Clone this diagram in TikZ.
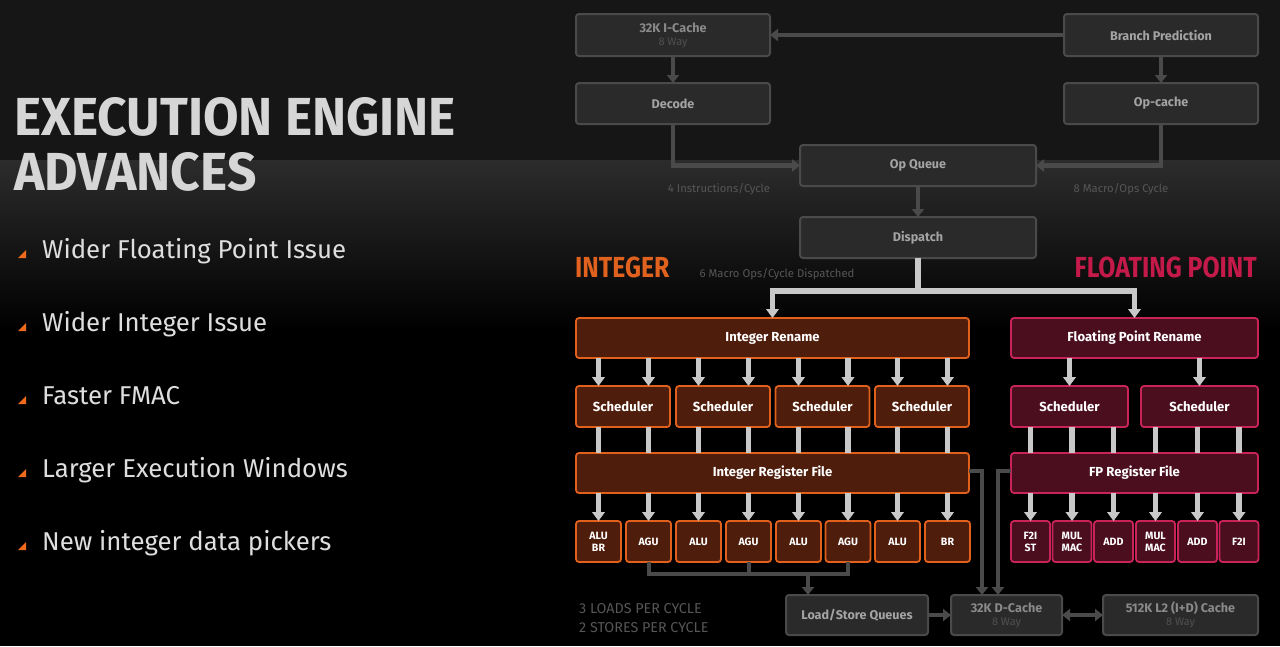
\documentclass[tikz,border=0pt]{standalone}
\usepackage{fontspec}
\usepackage{graphicx}
\setmainfont{Fira Sans}
\usetikzlibrary{arrows.meta}
\definecolor{bgtop}{HTML}{161616}
\definecolor{bgmid}{HTML}{2C2C2C}
\definecolor{gfill}{HTML}{2A2A2A}
\definecolor{gline}{HTML}{4A4A4A}
\definecolor{gtext}{HTML}{A4A4A4}
\definecolor{gdim}{HTML}{8A8A8A}
\definecolor{gsub}{HTML}{505050}
\definecolor{notec}{HTML}{565656}
\definecolor{ifill}{HTML}{4E1D0B}
\definecolor{iline}{HTML}{E0601C}
\definecolor{ffill}{HTML}{4A0E1F}
\definecolor{fline}{HTML}{C8245A}
\definecolor{lgray}{HTML}{C8C8C8}
\definecolor{ititle}{HTML}{E0621E}
\definecolor{ftitle}{HTML}{C41A4A}
\definecolor{titlec}{HTML}{D6D6D6}
\definecolor{bulletc}{HTML}{F06A1E}
\definecolor{itemc}{HTML}{DEDEDE}
\begin{document}
\begin{tikzpicture}[x=1pt,y=-1pt,
  gbox/.style={draw=gline, fill=gfill, line width=2pt, rounded corners=3pt, inner sep=0pt, outer sep=0pt, text=gtext, font=\bfseries\fontsize{12.6}{14}\selectfont, align=center},
  cbox/.style={gbox, text=gdim},
  ibox/.style={draw=iline, fill=ifill, line width=1.8pt, rounded corners=3pt, inner sep=0pt, outer sep=0pt, text=white, font=\bfseries\fontsize{13.1}{15}\selectfont, align=center},
  fbox/.style={ibox, draw=fline, fill=ffill},
  unitfont/.style={font=\bfseries\fontsize{10.6}{12}\selectfont},
  garrow/.style={draw=gline, line width=4.5pt, -{Triangle[width=12pt,length=8pt]}},
  gwire/.style={draw=gline, line width=4pt},
  larrow/.style={draw=lgray, line width=5.5pt, -{Triangle[width=12.5pt,length=9pt]}},
  lbar/.style={draw=lgray, line width=5.5pt},
  note/.style={text=notec, font=\fontsize{11.3}{13}\selectfont},
]
% background
\fill[black] (0,0) rectangle (1280,646);
\fill[bgtop] (0,0) rectangle (1280,160);
\shade[top color=bgmid, bottom color=black] (0,160) rectangle (1280,330);
\useasboundingbox (0,0) rectangle (1280,646);

% left text
\node[anchor=base west, inner sep=0pt, text=titlec, font=\bfseries\fontsize{51.5}{55}\selectfont] (t1) at (14,135) {\scalebox{1}[1.04]{EXECUTION ENGINE}};
\node[anchor=base west, inner sep=0pt, text=titlec, font=\bfseries\fontsize{51.5}{55}\selectfont] (t2) at (14,190) {\scalebox{1}[1.04]{ADVANCES}};
\foreach \y/\txt [count=\i] in {258/Wider Floating Point Issue, 331/Wider Integer Issue, 404/Faster FMAC, 477/Larger Execution Windows, 550/New integer data pickers}{
  \fill[bulletc] (18,\y) -- (26,\y) -- (26,\y-8) -- cycle;
  \node[anchor=base west, inner sep=0pt, text=itemc, font=\fontsize{25.8}{30}\selectfont] (item\i) at (42,\y) {\txt};
}

% front end
\node[cbox, minimum width=194, minimum height=42] (icache) at (673,35) {32K I-Cache\\[-1pt]{\mdseries\color{gsub}\fontsize{11}{12}\selectfont 8 Way}};
\node[gbox, minimum width=194, minimum height=42] (bp) at (1161,35) {Branch Prediction};
\node[gbox, minimum width=194, minimum height=41] (decode) at (673,103.5) {Decode};
\node[gbox, minimum width=194, minimum height=41] (opcache) at (1161,103.5) {Op-cache};
\node[gbox, minimum width=236, minimum height=41] (opq) at (918,165.5) {Op Queue};
\node[gbox, minimum width=236, minimum height=41] (dispatch) at (918,237.5) {Dispatch};

\draw[garrow] (bp.west) -- (icache.east);
\draw[garrow] (icache.south) -- (decode.north);
\draw[garrow] (bp.south) -- (opcache.north);
\draw[garrow] (decode.south) |- (opq.west);
\draw[garrow] (opcache.south) |- (opq.east);
\draw[garrow] (opq.south) -- (dispatch.north);

\node[note] (n1) at (719,189) {4 Instructions/Cycle};
\node[note] (n2) at (1121,189) {8 Macro/Ops Cycle};
\node[note] (n3) at (777,274) {6 Macro Ops/Cycle Dispatched};

\node[anchor=base west, inner sep=0pt, text=ititle, font=\bfseries\fontsize{24.8}{26}\selectfont] (inttitle) at (575,277) {\scalebox{1}[1.17]{INTEGER}};
\node[anchor=base east, inner sep=0pt, text=ftitle, font=\bfseries\fontsize{24.8}{26}\selectfont] (fptitle) at (1257,277) {\scalebox{1}[1.17]{FLOATING POINT}};

% integer cluster
\node[ibox, minimum width=393, minimum height=40] (irename) at (772.5,338) {Integer Rename};
\node[ibox, minimum width=393, minimum height=40] (irf) at (772.5,473) {Integer Register File};
\foreach \cx [count=\j] in {623,723,822.5,922}{
  \node[ibox, minimum width=94, minimum height=41] (isch\j) at (\cx,406.5) {Scheduler};
}
\foreach \cx/\lbl [count=\k] in {598.5/{ALU\\BR},648.5/AGU,698.5/ALU,748.5/AGU,798.5/ALU,848/AGU,897.5/ALU,947.5/BR}{
  \node[ibox, unitfont, minimum width=45, minimum height=41] (iu\k) at (\cx,541.5) {\lbl};
}
\foreach \k/\j in {1/1,2/1,3/2,4/2,5/3,6/3,7/4,8/4}{
  \draw[larrow] (irename.south -| iu\k) -- (isch\j.north -| iu\k);
  \draw[lbar] (isch\j.south -| iu\k) -- (irf.north -| iu\k);
  \draw[larrow] (irf.south -| iu\k) -- (iu\k.north);
}

% floating point cluster
\node[fbox, minimum width=247, minimum height=40] (frename) at (1134.5,338) {Floating Point Rename};
\node[fbox, minimum width=247, minimum height=40] (fprf) at (1134.5,473) {FP Register File};
\node[fbox, minimum width=117, minimum height=41] (fsch1) at (1069.5,406.5) {Scheduler};
\node[fbox, minimum width=117, minimum height=41] (fsch2) at (1199.5,406.5) {Scheduler};
\foreach \cx/\lbl [count=\k] in {1030.5/{F2I\\ST},1072/{MUL\\MAC},1113.5/ADD,1155.5/{MUL\\MAC},1197.5/ADD,1239/F2I}{
  \node[fbox, unitfont, minimum width=39, minimum height=41] (fu\k) at (\cx,541.5) {\lbl};
}
\draw[larrow] (frename.south -| fsch1) -- (fsch1.north);
\draw[larrow] (frename.south -| fsch2) -- (fsch2.north);
\foreach \k/\j in {1/1,2/1,3/1,4/2,5/2,6/2}{
  \draw[lbar] (fsch\j.south -| fu\k) -- (fprf.north -| fu\k);
  \draw[larrow] (fprf.south -| fu\k) -- (fu\k.north);
}

% dispatch split
\coordinate (split) at (918,291);
\draw[lbar] (dispatch.south) -- (split);
\draw[draw=lgray, line width=5.5pt, line join=miter, {Triangle[width=12.5pt,length=9pt]}-{Triangle[width=12.5pt,length=9pt]}] (irename.north) |- (split) -| (frename.north);

% memory
\node[gbox, minimum width=142, minimum height=40] (lsq) at (857,615) {Load/Store Queues};
\node[cbox, minimum width=111, minimum height=40] (dcache) at (1006.5,615) {32K D-Cache\\[-1pt]{\mdseries\color{gsub}\fontsize{11}{12}\selectfont 8 Way}};
\node[cbox, minimum width=155, minimum height=40] (l2) at (1180.5,615) {512K L2 (I+D) Cache\\[-1pt]{\mdseries\color{gsub}\fontsize{11}{12}\selectfont 8 Way}};

\coordinate (bus) at (808,574);
\draw[gwire, line join=miter] (iu2.south) |- (bus) -| (iu6.south);
\draw[gwire] (iu4.south) -- (iu4.south |- bus);
\draw[garrow] (bus) -- (lsq.north -| bus);
\draw[garrow] (lsq.east) -- (dcache.west);
\draw[draw=gline, line width=4.5pt, {Triangle[width=12pt,length=8pt]}-{Triangle[width=12pt,length=8pt]}] (dcache.east) -- (l2.west);
\coordinate (dA) at (982,471);
\coordinate (dB) at (998,471);
\draw[garrow] (irf.east |- dA) -| (dcache.north -| dA);
\draw[garrow] (fprf.west |- dB) -| (dcache.north -| dB);

\node[anchor=base west, inner sep=0pt, text=notec, font=\fontsize{14.3}{16}\selectfont] (loads) at (579,613) {3 LOADS PER CYCLE};
\node[anchor=base west, inner sep=0pt, text=notec, font=\fontsize{14.3}{16}\selectfont] (stores) at (579,632) {2 STORES PER CYCLE};
\end{tikzpicture}
\end{document}
